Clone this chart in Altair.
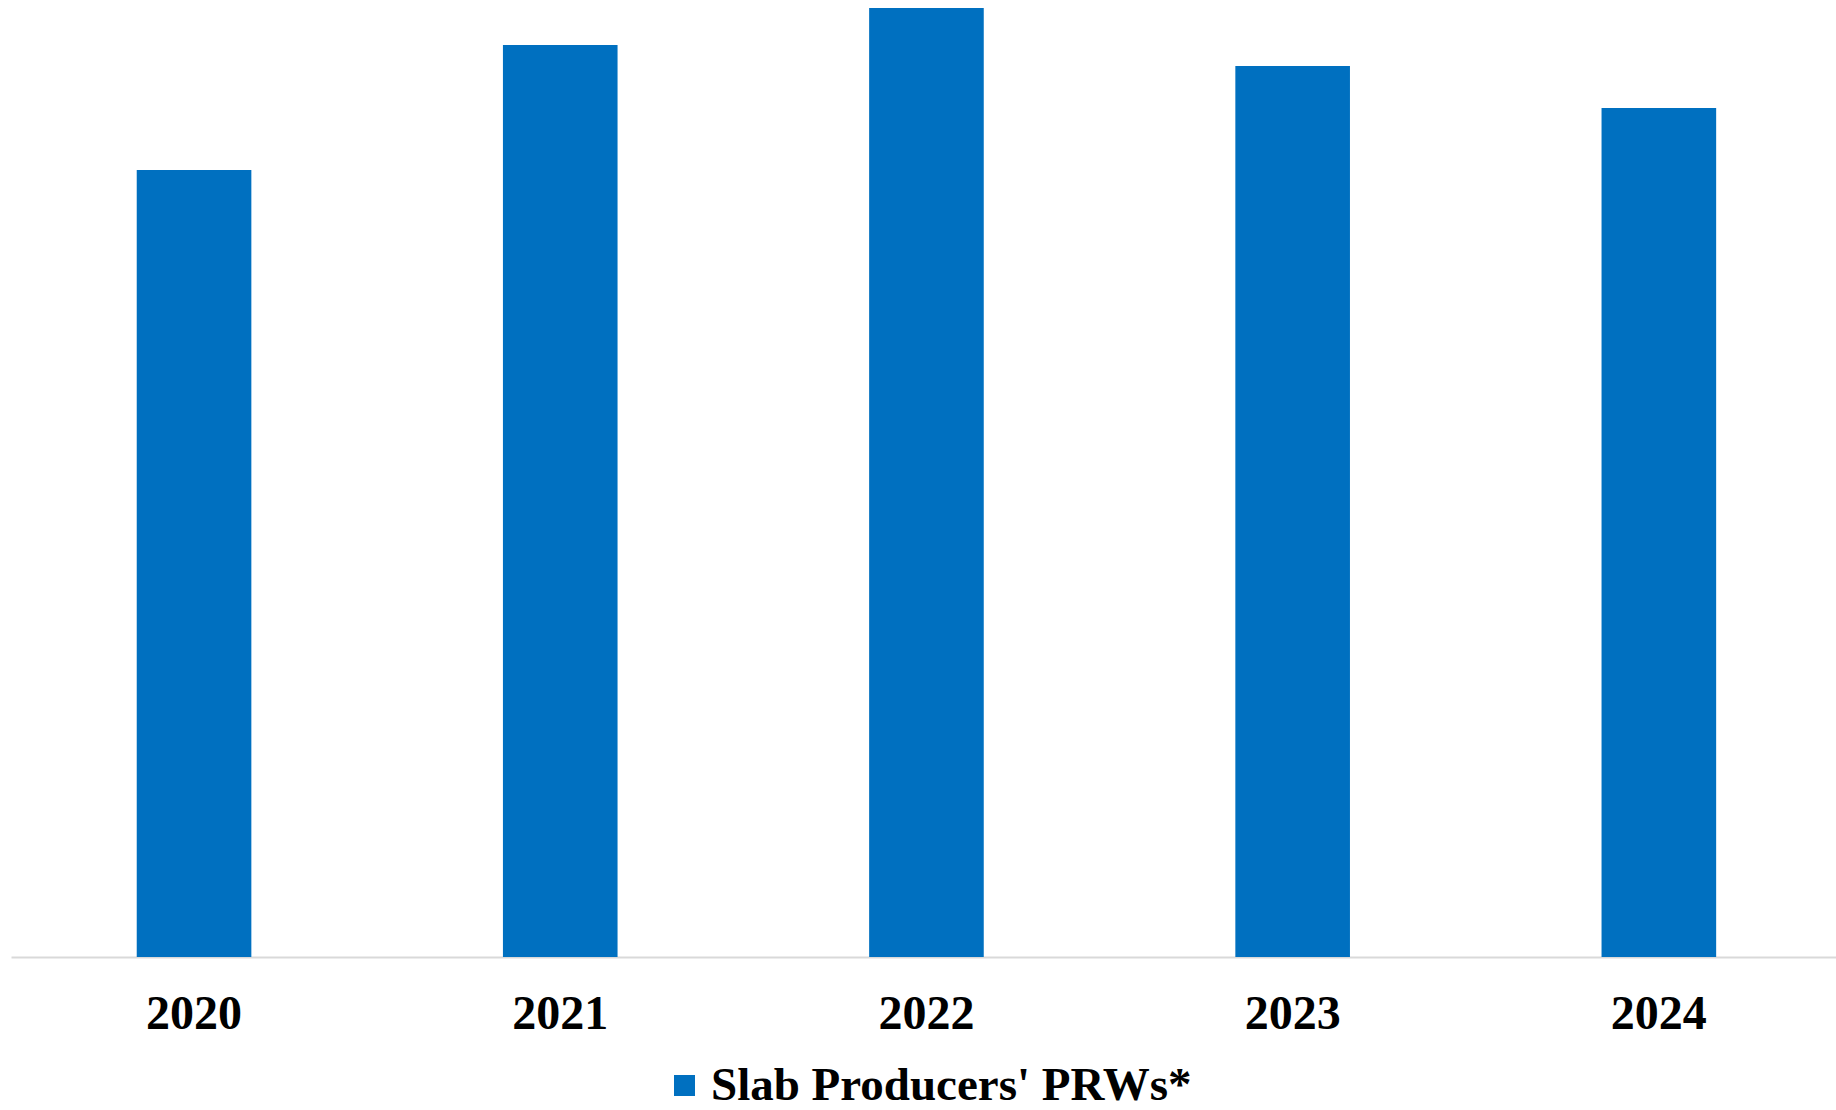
import altair as alt
import pandas as pd

years = ["2020", "2021", "2022", "2023", "2024"]
values = [787, 912, 949, 891, 849]
series = ["Slab Producers' PRWs*"] * 5

df = pd.DataFrame({"year": years, "value": values, "series": series})

FONT = "Liberation Serif"

chart = alt.Chart(df).mark_bar(color="#0070C0").encode(
    x=alt.X("year:N", sort=years, title=None,
            scale=alt.Scale(paddingInner=0.687, paddingOuter=0.3353, align=0.512),
            axis=alt.Axis(labelAngle=0, labelFont=FONT, labelFontSize=48,
                          labelFontWeight="bold", labelColor="black",
                          labelPadding=33, ticks=False, domainColor="#d9d9d9",
                          domainWidth=2, grid=False)),
    y=alt.Y("value:Q", title=None, scale=alt.Scale(domain=[0, 957], nice=False),
            axis=None),
    color=alt.Color("series:N", scale=alt.Scale(range=["#0070C0"]),
                    legend=alt.Legend(title=None, orient="none", legendX=650, legendY=1062,
                                      symbolType="square", symbolSize=440,
                                      symbolStrokeWidth=0, symbolOpacity=1,
                                      labelFont=FONT, labelFontSize=47,
                                      labelFontWeight="bold", labelColor="black",
                                      labelOffset=3, padding=0, labelLimit=800)),
).properties(
    width=1825, height=957,
    autosize=alt.AutoSizeParams(type="none"),
    padding={"left": 11, "top": 0, "right": 0, "bottom": 153},
).configure(background="white").configure_view(strokeWidth=0, stroke="transparent")

chart.save("out.html", embed_options={"renderer": "svg", "actions": False})
